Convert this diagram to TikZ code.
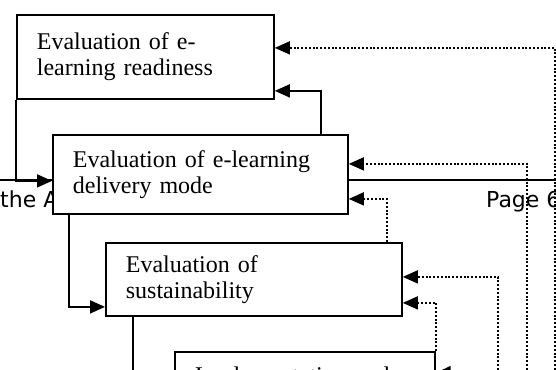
\documentclass[tikz,border=0pt]{standalone}
\usepackage{fontspec}
\setmainfont{Liberation Serif}
\newfontfamily\hdrfont{DejaVu Sans}
\usetikzlibrary{arrows.meta}
\tikzset{
	stagebox/.style = {draw, fill=white, line width=1.8pt, anchor=north west, align=left,
		inner xsep=20pt, inner ysep=0pt, font=\fontsize{24}{26}\selectfont},
	link/.style = {line width=1.8pt, -{Triangle[length=15pt,width=13pt]}},
	feedback/.style = {line width=1.5pt, dash pattern=on 2pt off 1.8pt, -{Triangle[length=15pt,width=13pt]}},
	header/.style = {font=\hdrfont\fontsize{22}{26}\selectfont, anchor=base west, inner sep=0pt}
}
\begin{document}
\begin{tikzpicture}[x=1pt, y=-1pt]
			\useasboundingbox (0,0) rectangle (556,369);
			\clip (0,0) rectangle (556,369);
			\fill[white] (0,0) rectangle (556,369);
			
			\node[header] (htext) at (0,207) {the A};
			\node[header] (hpage) at (486,207) {Page 6};
			\coordinate (rl) at (0,180);
			\coordinate (rr) at (556,180);
			\draw [line width=1.5pt] (rl) -- (rr);
			
			\node[stagebox, text width=217pt, minimum height=84pt] (ready) at (16,14) {Evaluation of e-\\learning readiness};
			\node[stagebox, text width=255pt, minimum height=79pt] (mode) at (52,134) {Evaluation of e-learning\\delivery mode};
			\node[stagebox, text width=256pt, minimum height=73pt] (sust) at (105,242) {Evaluation of\\sustainability};
			\node[stagebox, text width=220pt, minimum height=52pt] (impl) at (174,351) {Implementation and};
			
			\coordinate (down) at (133,385);
			\coordinate (e1) at (555,385);
			\coordinate (e2) at (527,385);
			\coordinate (e3) at (498,385);
			\coordinate (e4) at (472,372);
			
			\draw [link] (ready.south west) |- ([yshift=-6.5pt]mode.west);
			\draw [link] ([xshift=-28pt]mode.north east) |- ([yshift=-34pt]ready.east);
			\draw [link] ([xshift=17pt]mode.south west) |- ([yshift=-27.5pt]sust.west);
			\draw [line width=1.8pt] ([xshift=28pt]sust.south west) -- (down);
			
			\draw [feedback] (e1) |- ([yshift=9pt]ready.east);
			\draw [feedback] (e2) |- ([yshift=10.5pt]mode.east);
			\draw [feedback] ([xshift=-16pt]sust.north east) |- ([yshift=-24.5pt]mode.east);
			\draw [feedback] (e3) |- ([yshift=2.5pt]sust.east);
			\draw [feedback] (impl.north east) |- ([yshift=-23.5pt]sust.east);
			\draw [feedback] (e4) -- ([yshift=5pt]impl.east);
			
		\end{tikzpicture}
\end{document}
